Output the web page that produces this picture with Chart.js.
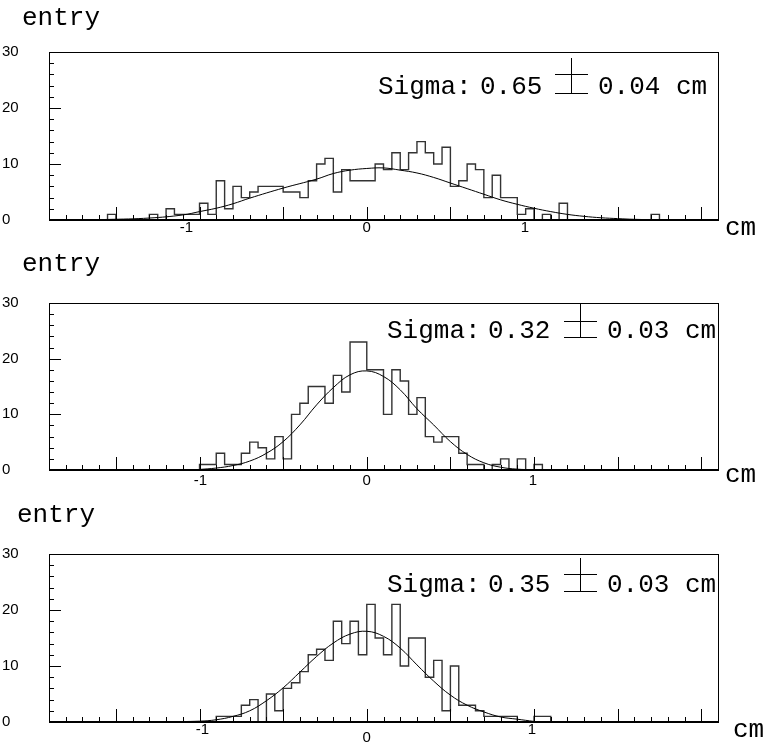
<!DOCTYPE html>
<html>
<head>
<meta charset="utf-8">
<script src="https://cdn.jsdelivr.net/npm/chart.js@4/dist/chart.umd.min.js"></script>
<style>
  html, body { margin: 0; padding: 0; background: #fff; overflow: hidden; }
  #page { position: relative; width: 764px; height: 744px; }
  canvas { position: absolute; left: 0; }
</style>
</head>
<body>
<div id="page">
  <canvas id="c1" width="764" height="250" style="top:0px"></canvas>
  <canvas id="c2" width="764" height="250" style="top:250px"></canvas>
  <canvas id="c3" width="764" height="244" style="top:500px"></canvas>
</div>
<script>
// 80 bins of 0.05 cm from -1.9 to 2.1
const BIN_LOW = -1.9;
const BIN_HIGH = 2.1;
const BIN_WIDTH = 0.05;
const X_LABELS = ['-1', '0', '1'];
const X_LABEL_VALUES = [-1, 0, 1];

const counts1 = [
  0, 0, 0, 0, 0, 0, 0, 1, 0, 0,
  0, 0, 1, 0, 2, 1, 1, 1, 3, 1,
  7, 2, 6, 4, 5, 6, 6, 6, 5, 5,
  4, 7, 10, 11, 5, 9, 7, 7, 7, 10,
  9, 12, 9, 12, 14, 12, 10, 13, 6, 7,
  10, 9, 4, 8, 4, 4, 1, 2, 0, 1,
  0, 3, 0, 0, 0, 0, 0, 0, 0, 0,
  0, 0, 1, 0, 0, 0, 0, 0, 0, 0,
];
const counts2 = [
  0, 0, 0, 0, 0, 0, 0, 0, 0, 0,
  0, 0, 0, 0, 0, 0, 0, 0, 1, 1,
  3, 1, 1, 3, 5, 4, 2, 6, 2, 10,
  12, 15, 15, 12, 17, 14, 23, 23, 18, 18,
  10, 18, 16, 10, 13, 6, 5, 6, 6, 3,
  1, 1, 0, 1, 2, 0, 2, 0, 1, 0,
  0, 0, 0, 0, 0, 0, 0, 0, 0, 0,
  0, 0, 0, 0, 0, 0, 0, 0, 0, 0,
];
const counts3 = [
  0, 0, 0, 0, 0, 0, 0, 0, 0, 0,
  0, 0, 0, 0, 0, 0, 0, 0, 0, 0,
  1, 1, 1, 3, 4, 0, 5, 2, 6, 7,
  9, 12, 13, 11, 18, 14, 18, 12, 21, 15,
  12, 21, 10, 15, 15, 8, 11, 2, 10, 3,
  3, 2, 1, 1, 1, 1, 0, 0, 1, 1,
  0, 0, 0, 0, 0, 0, 0, 0, 0, 0,
  0, 0, 0, 0, 0, 0, 0, 0, 0, 0,
];

// gaussian fit curves
const fitX1 = [-1.75, -1.55, -1.3, -1.1, -1.0, -0.9, -0.8, -0.7, -0.5, -0.3, -0.2, -0.1, 0.0, 0.1, 0.2, 0.3, 0.4, 0.5, 0.6, 0.7, 0.8, 0.9, 1.0, 1.1, 1.2, 1.3, 1.4, 1.5, 1.6, 1.75, 1.9];
const fitY1 = [0.03, 0.1, 0.35, 0.9, 1.5, 2.1, 2.9, 3.9, 5.7, 7.3, 8.3, 8.9, 9.2, 9.3, 8.9, 8.4, 7.6, 6.6, 5.6, 4.6, 3.6, 2.8, 2.1, 1.5, 1.0, 0.65, 0.4, 0.25, 0.12, 0.05, 0.02];
const fitX2 = [-1.0, -0.9, -0.8, -0.7, -0.6, -0.5, -0.4, -0.3, -0.2, -0.1, 0.0, 0.1, 0.2, 0.3, 0.4, 0.5, 0.6, 0.7, 0.8, 0.9, 1.0];
const fitY2 = [0.1, 0.35, 0.8, 1.6, 3.0, 5.1, 8.1, 11.7, 14.8, 17.1, 17.8, 16.8, 14.4, 11.0, 8.1, 5.1, 2.8, 1.3, 0.5, 0.15, 0.05];
const fitX3 = [-1.2, -1.0, -0.9, -0.8, -0.7, -0.6, -0.5, -0.4, -0.3, -0.2, -0.1, 0.0, 0.1, 0.2, 0.3, 0.4, 0.5, 0.6, 0.7, 0.8, 0.9, 1.0];
const fitY3 = [0.05, 0.15, 0.4, 1.0, 2.0, 3.8, 6.1, 8.9, 11.7, 14.1, 15.7, 16.2, 15.3, 13.2, 10.2, 7.3, 4.8, 3.0, 1.8, 0.9, 0.5, 0.1];

const sigma1 = ['0.65', '0.04'];
const sigma2 = ['0.32', '0.03'];
const sigma3 = ['0.35', '0.03'];

const MONO = '26px "Liberation Mono", monospace';
const SANS_FAMILY = '"Liberation Sans", Arial, sans-serif';
const SANS = '15px ' + SANS_FAMILY;

// layout of each panel (canvas coordinates)
const panels = [
  {
    id: 'c1', counts: counts1, fitX: fitX1, fitY: fitY1, sigma: sigma1,
    top: 52, bottom: 30,
    xLabelShift: [[-13, 8], [0, 8], [-9, 8]],
    entry: [22, 25], cm: [725, 235],
    sig: {x: 378, x2: 480, pm: 571, x3: 598, base: 94, pmTop: 58, pmMid: 74},
  },
  {
    id: 'c2', counts: counts2, fitX: fitX2, fitY: fitY2, sigma: sigma2,
    top: 53, bottom: 30,
    xLabelShift: [[1, 11], [0, 11], [-1, 11]],
    entry: [22, 21], cm: [725, 232],
    sig: {x: 387, x2: 488, pm: 580, x3: 607, base: 88, pmTop: 53, pmMid: 71},
  },
  {
    id: 'c3', counts: counts3, fitX: fitX3, fitY: fitY3, sigma: sigma3,
    top: 54, bottom: 22,
    xLabelShift: [[3, 8], [0, 16], [-2, 8]],
    entry: [17, 22], cm: [733, 237],
    sig: {x: 387, x2: 488, pm: 580, x3: 607, base: 92, pmTop: 58, pmMid: 74},
  },
];

// frame, inward ticks and all the PAW style texts
const pawFrame = {
  id: 'pawFrame',
  afterDatasetsDraw(chart, args, o) {
    const {ctx, chartArea: a} = chart;
    const x = chart.scales.x;
    const y = chart.scales.y;
    ctx.save();
    ctx.strokeStyle = '#000';
    ctx.lineWidth = 1;
    ctx.strokeRect(a.left + 0.5, a.top + 0.5, a.right - a.left, a.bottom - a.top);
    ctx.lineWidth = 2;
    ctx.beginPath();
    ctx.moveTo(a.left, a.bottom);
    ctx.lineTo(a.right + 1, a.bottom);
    ctx.stroke();

    ctx.lineWidth = 1;
    ctx.beginPath();
    x.ticks.forEach((t) => {
      if (t.value <= x.min + 1e-6 || t.value >= x.max - 1e-6) return;
      const len = Math.round(t.value * 10) % 5 === 0 ? 13 : 5;
      const px = Math.round(x.getPixelForValue(t.value)) + 0.5;
      ctx.moveTo(px, a.bottom);
      ctx.lineTo(px, a.bottom - len);
    });
    y.ticks.forEach((t) => {
      if (t.value <= y.min || t.value >= y.max) return;
      const len = t.value % 10 === 0 ? 12 : 5;
      const py = Math.round(y.getPixelForValue(t.value)) + 0.5;
      ctx.moveTo(a.left, py);
      ctx.lineTo(a.left + len, py);
    });
    ctx.stroke();

    // x labels
    ctx.fillStyle = '#000';
    ctx.font = SANS;
    ctx.textAlign = 'center';
    ctx.textBaseline = 'middle';
    X_LABEL_VALUES.forEach((v, i) => {
      const [dx, dy] = o.xLabelShift[i];
      ctx.fillText(X_LABELS[i], x.getPixelForValue(v) + dx, a.bottom + dy);
    });

    // titles
    ctx.font = MONO;
    ctx.textAlign = 'left';
    ctx.textBaseline = 'alphabetic';
    ctx.fillText('entry', o.entry[0], o.entry[1]);
    ctx.fillText('cm', o.cm[0], o.cm[1]);
    const s = o.sig;
    ctx.fillText('Sigma:', s.x, s.base);
    ctx.fillText(o.sigma[0], s.x2, s.base);
    ctx.fillText(o.sigma[1] + ' cm', s.x3, s.base);
    // big plus-minus sign
    ctx.beginPath();
    ctx.moveTo(s.pm + 0.5, s.pmTop);
    ctx.lineTo(s.pm + 0.5, s.base);
    ctx.moveTo(s.pm - 16, s.pmMid + 0.5);
    ctx.lineTo(s.pm + 17, s.pmMid + 0.5);
    ctx.moveTo(s.pm - 16, s.base - 0.5);
    ctx.lineTo(s.pm + 17, s.base - 0.5);
    ctx.stroke();
    ctx.restore();
  },
};

function histPoints(counts) {
  const pts = counts.map((c, i) => ({x: BIN_LOW + i * BIN_WIDTH, y: c}));
  pts.push({x: BIN_HIGH, y: counts[counts.length - 1]});
  return pts;
}

panels.forEach((p) => {
  new Chart(document.getElementById(p.id), {
    type: 'line',
    data: {
      datasets: [
        {
          data: p.fitX.map((v, i) => ({x: v, y: p.fitY[i]})),
          borderColor: '#000',
          borderWidth: 1,
          pointRadius: 0,
          tension: 0.4,
        },
        {
          data: histPoints(p.counts),
          borderColor: '#333',
          borderWidth: 1.4,
          pointRadius: 0,
          stepped: true,
        },
      ],
    },
    options: {
      responsive: false,
      animation: false,
      devicePixelRatio: 1,
      layout: {padding: {left: 2, right: 46, top: p.top, bottom: p.bottom}},
      plugins: {
        legend: {display: false},
        tooltip: {enabled: false},
        pawFrame: p,
      },
      scales: {
        x: {
          type: 'linear',
          min: BIN_LOW,
          max: BIN_HIGH,
          ticks: {display: false, stepSize: 0.1},
          grid: {display: false},
          border: {display: false},
          afterFit: (scale) => {
            scale.height = 0;
          },
        },
        y: {
          min: 0,
          max: 30,
          ticks: {
            stepSize: 2,
            autoSkip: false,
            crossAlign: 'far',
            padding: 0,
            color: '#000',
            font: {family: SANS_FAMILY, size: 15},
            callback: (v) => (v % 10 === 0 ? String(v) : ''),
          },
          grid: {display: false},
          border: {display: false},
          afterFit: (scale) => {
            scale.width = 47;
          },
        },
      },
    },
    plugins: [pawFrame],
  });
});
</script>
</body>
</html>
